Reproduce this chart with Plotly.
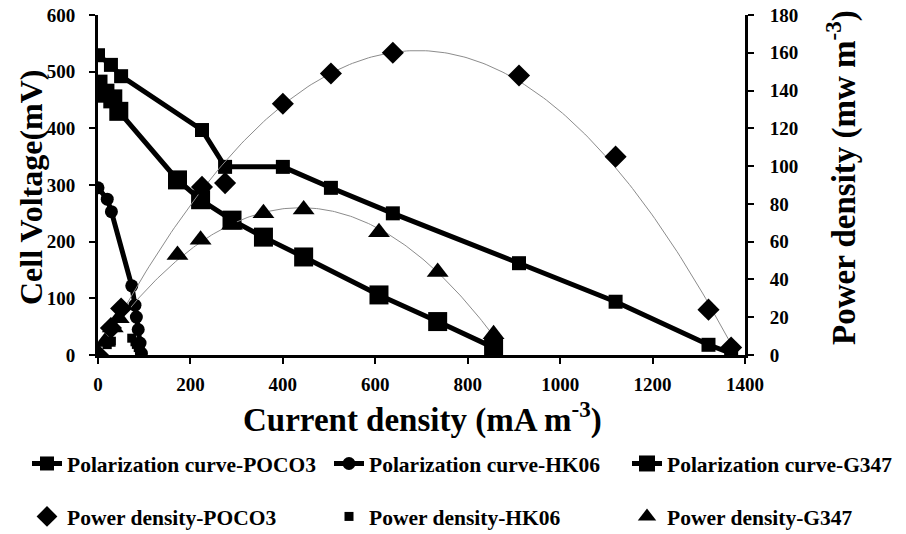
import numpy as np
import plotly.graph_objects as go

# ---------------- data ----------------
poco3_i = [0, 28, 50, 225, 275, 400, 504, 638, 911, 1120, 1321, 1370]
poco3_v = [529, 512, 492, 397, 332, 332, 295, 250, 162, 94, 18, 3]
poco3_p = [0, 14.3, 24.6, 89, 91, 133, 149, 160, 148, 105, 24, 4]

hk06_i = [0, 20, 29, 73, 80, 83, 87, 91, 94]
hk06_v = [295, 275, 253, 122, 88, 67, 45, 21, 3]
hk06_p = [0, 5.5, 7.3, 8.9, 7.0, 5.6, 3.9, 1.9, 0.3]

g347_i = [0, 15, 32, 45, 172, 222, 290, 358, 445, 608, 735, 856]
g347_v = [478, 462, 452, 430, 309, 274, 238, 208, 173, 106, 59, 13]
g347_p = [0, 6.9, 14.5, 19.4, 53, 61, 69, 75, 77, 65, 44, 11]

x_ticks = [0, 200, 400, 600, 800, 1000, 1200, 1400]
y1_ticks = [0, 100, 200, 300, 400, 500, 600]
y2_ticks = [0, 20, 40, 60, 80, 100, 120, 140, 160, 180]

FONT = "Liberation Serif"
BLACK = "#000000"

# page body has an 8px default margin: figure is placed at (8, 8)
OFF = 8
PL, PT, PW, PH = 98, 15, 647, 340   # plot area in window pixels


def px_x(x):
    return (x - PL) / PW


def px_y(y):
    return (PT + PH - y) / PH


fig = go.Figure()

# polarization curves (left axis)
fig.add_trace(go.Scatter(x=poco3_i, y=poco3_v, mode="lines+markers",
                         name="Polarization curve-POCO3",
                         line=dict(color=BLACK, width=5),
                         marker=dict(symbol="square", size=14, color=BLACK),
                         legend="legend", legendgroup="a"))
fig.add_trace(go.Scatter(x=hk06_i, y=hk06_v, mode="lines+markers",
                         name="Polarization curve-HK06",
                         line=dict(color=BLACK, width=5),
                         marker=dict(symbol="circle", size=13, color=BLACK),
                         legend="legend2", legendgroup="c"))
fig.add_trace(go.Scatter(x=g347_i, y=g347_v, mode="lines+markers",
                         name="Polarization curve-G347",
                         line=dict(color=BLACK, width=5),
                         marker=dict(symbol="square", size=19, color=BLACK),
                         legend="legend3", legendgroup="e"))

# polynomial trendlines (order 2) of power density, right axis
for xs, ps in [(poco3_i, poco3_p), (g347_i, g347_p)]:
    coef = np.polyfit(xs, ps, 2)
    xx = np.linspace(min(xs), max(xs), 200)
    fig.add_trace(go.Scatter(x=xx, y=np.polyval(coef, xx), mode="lines",
                             line=dict(color="#8c8c8c", width=1),
                             showlegend=False, hoverinfo="skip", yaxis="y2"))

# power density (right axis)
fig.add_trace(go.Scatter(x=poco3_i, y=poco3_p, mode="markers",
                         name="Power density-POCO3", yaxis="y2",
                         marker=dict(symbol="diamond", size=17, color=BLACK),
                         legend="legend", legendgroup="b"))
fig.add_trace(go.Scatter(x=hk06_i, y=hk06_p, mode="markers",
                         name="Power density-HK06", yaxis="y2",
                         marker=dict(symbol="square", size=9, color=BLACK),
                         legend="legend2", legendgroup="d"))
fig.add_trace(go.Scatter(x=g347_i, y=g347_p, mode="markers",
                         name="Power density-G347", yaxis="y2",
                         marker=dict(symbol="triangle-up", size=19, color=BLACK),
                         legend="legend3", legendgroup="f"))

tickfont = dict(family=FONT, size=19, color=BLACK, weight="bold")
legfont = dict(family=FONT, size=21.5, color=BLACK, weight="bold")


def leg(xpx):
    return dict(orientation="v", x=px_x(xpx), xanchor="left",
                y=px_y(443), yanchor="top", font=legfont,
                itemsizing="trace", bgcolor="rgba(0,0,0,0)",
                traceorder="grouped", tracegroupgap=22)


fig.update_layout(
    width=906 - OFF, height=534 - OFF,
    margin=dict(l=PL - OFF, r=906 - (PL + PW), t=PT - OFF, b=534 - (PT + PH),
                autoexpand=False),
    paper_bgcolor="white", plot_bgcolor="white",
    showlegend=True,
    xaxis=dict(range=[0, 1400], tickvals=x_ticks, showgrid=False, zeroline=False,
               showline=True, linecolor=BLACK, linewidth=3,
               ticks="outside", ticklen=6, tickwidth=2, tickcolor=BLACK,
               tickfont=tickfont, ticklabelstandoff=4, ticklabeloverflow="allow"),
    yaxis=dict(range=[0, 600], tickvals=y1_ticks, showgrid=False, zeroline=False,
               showline=True, linecolor=BLACK, linewidth=3,
               ticks="outside", ticklen=6, tickwidth=2, tickcolor=BLACK,
               tickfont=tickfont, ticklabelstandoff=10, ticklabeloverflow="allow"),
    yaxis2=dict(range=[0, 180], tickvals=y2_ticks, overlaying="y", side="right",
                showgrid=False, zeroline=False,
                showline=True, linecolor=BLACK, linewidth=3,
                ticks="outside", ticklen=6, tickwidth=2, tickcolor=BLACK,
                tickfont=tickfont, ticklabelstandoff=12, ticklabeloverflow="allow"),
    legend=leg(27),
    legend2=leg(329),
    legend3=leg(627),
)

# axis titles
fig.add_annotation(text="Cell Voltage(mV)", xref="paper", yref="paper",
                   x=px_x(31), y=px_y(187), textangle=-90, showarrow=False,
                   xanchor="center", yanchor="middle",
                   font=dict(family=FONT, size=32, color=BLACK, weight="bold"))
fig.add_annotation(text="Power density (mw m<sup>-3</sup>)", xref="paper", yref="paper",
                   x=px_x(841), y=px_y(178), textangle=-90, showarrow=False,
                   xanchor="center", yanchor="middle",
                   font=dict(family=FONT, size=33, color=BLACK, weight="bold"))
fig.add_annotation(text="Current density (mA m<sup>-3</sup>)", xref="paper", yref="paper",
                   x=px_x(422), y=px_y(417), showarrow=False,
                   xanchor="center", yanchor="middle",
                   font=dict(family=FONT, size=33, color=BLACK, weight="bold"))

fig.write_html("out.html")
